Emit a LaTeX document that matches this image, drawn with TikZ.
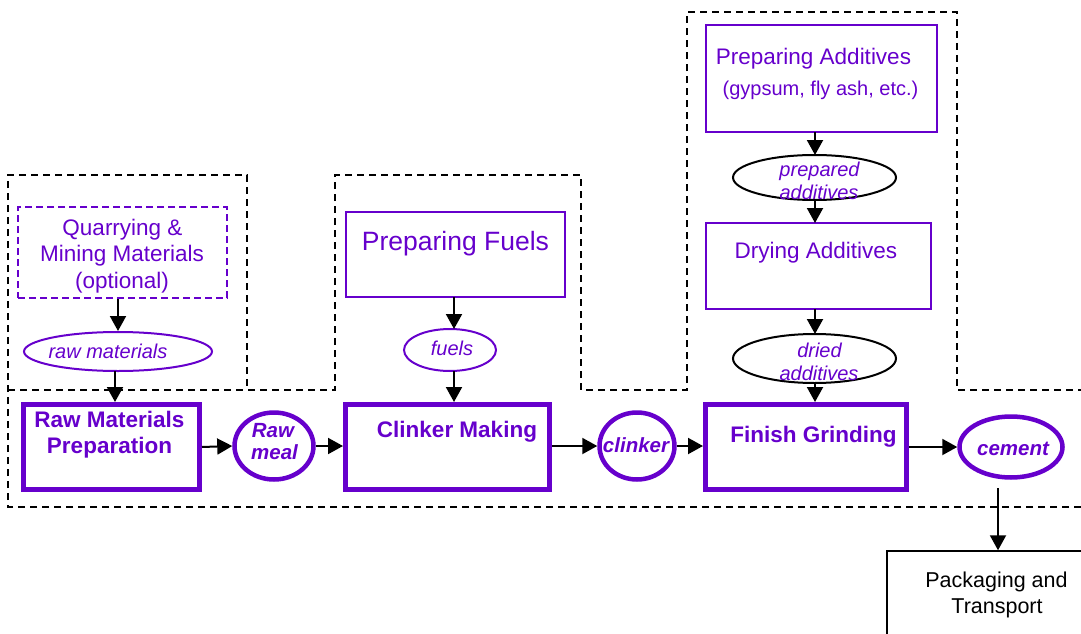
\documentclass[tikz,border=0pt]{standalone}
\usepackage{fontspec}
\setmainfont{Liberation Sans}
\usetikzlibrary{shapes.geometric,arrows.meta}
\definecolor{pur}{RGB}{102,0,204}
\begin{document}
\begin{tikzpicture}[x=1pt,y=-1pt,
 box/.style={draw=pur,line width=2pt,rectangle,inner sep=0pt},
 dbox/.style={box,dash pattern=on 7pt off 4pt},
 thickbox/.style={draw=pur,line width=5pt,rectangle,inner sep=0pt},
 oval/.style={draw=pur,line width=2pt,ellipse,inner sep=0pt},
 boval/.style={draw=black,line width=2pt,ellipse,inner sep=0pt},
 thickoval/.style={draw=pur,line width=4.5pt,ellipse,inner sep=0pt},
 txt/.style={text=pur,font=\fontsize{22.5}{26.5}\selectfont,inner sep=0pt,anchor=base},
 stxt/.style={text=pur,font=\fontsize{20}{24}\selectfont,inner sep=0pt,anchor=base},
 btxt/.style={text=pur,font=\fontsize{22.5}{27}\selectfont\bfseries,inner sep=0pt,anchor=base},
 itxt/.style={text=pur,font=\fontsize{20}{24}\selectfont\itshape,inner sep=0pt,anchor=base},
 bitxt/.style={text=pur,font=\fontsize{20.5}{22}\selectfont\bfseries\itshape,inner sep=0pt,anchor=base},
 ktxt/.style={text=black,font=\fontsize{21.5}{26}\selectfont,inner sep=0pt,anchor=base},
 arr/.style={draw=black,line width=2pt,-{Triangle[length=15pt,width=16pt]}},
 grp/.style={draw=black,line width=2pt,dash pattern=on 7pt off 5pt}]
\useasboundingbox (0,0) rectangle (1081,634);
\clip (0,0) rectangle (1081,634);
% group outlines
\draw[grp] (1081,507) -- (8,507) -- (8,175) -- (247,175) -- (247,390) -- (335,390) -- (335,175) -- (581,175) -- (581,390) -- (687,390) -- (687,12) -- (957,12) -- (957,390) -- (1081,390);
\draw[grp] (8,390) -- (247,390);
% shapes
\node[dbox,minimum width=209pt,minimum height=91pt] (quarry) at (122.5,252.5) {};
\node[oval,minimum width=188pt,minimum height=39pt] (rawmat) at (118,351.5) {};
\node[thickbox,minimum width=176pt,minimum height=85pt] (rmp) at (111.5,447) {};
\node[thickoval,minimum width=79pt,minimum height=67pt] (rawmeal) at (274,446) {};
\node[box,minimum width=219pt,minimum height=85pt] (pfuel) at (455.5,254.5) {};
\node[oval,minimum width=92pt,minimum height=42pt] (fuels) at (450,350) {};
\node[thickbox,minimum width=204pt,minimum height=85pt] (cmk) at (447.5,447) {};
\node[thickoval,minimum width=75pt,minimum height=67pt] (clinker) at (637,446) {};
\node[box,minimum width=231pt,minimum height=107pt] (padd) at (821.5,78.5) {};
\node[boval,minimum width=163pt,minimum height=45pt] (prepadd) at (814.5,177.5) {};
\node[box,minimum width=225pt,minimum height=86pt] (dadd) at (818.5,266) {};
\node[boval,minimum width=163pt,minimum height=49pt] (driedadd) at (814.5,358.5) {};
\node[thickbox,minimum width=201pt,minimum height=85pt] (fg) at (806,447) {};
\node[thickoval,minimum width=103pt,minimum height=61pt] (cement) at (1011,447) {};
\node[draw=black,line width=1.5pt,rectangle,inner sep=0pt,minimum width=240pt,minimum height=120pt] (pack) at (1007,611) {};
% texts
\node[txt] (tq1) at (122.5,235) {Quarrying \&};
\node[txt] (tq2) at (122,261.5) {Mining Materials};
\node[txt] (tq3) at (122,288) {(optional)};
\node[itxt] (trm) at (108,358) {raw materials};
\node[btxt] (tr1) at (109.5,427) {Raw Materials};
\node[btxt] (tr2) at (109.5,453) {Preparation};
\node[bitxt] (tw1) at (273,437) {Raw};
\node[bitxt] (tw2) at (274.5,459) {meal};
\node[txt,font=\fontsize{26.5}{30}\selectfont] (tpf) at (455.5,250) {Preparing Fuels};
\node[itxt] (tfu) at (452,355) {fuels};
\node[btxt] (tcm) at (457,437) {Clinker Making};
\node[bitxt] (tcl) at (636,452) {clinker};
\node[txt] (tpa1) at (813.5,64) {Preparing Additives};
\node[stxt] (tpa2) at (820.5,95) {(gypsum, fly ash, etc.)};
\node[itxt] (tpr1) at (819.5,176) {prepared};
\node[itxt] (tpr2) at (819,199) {additives};
\node[txt] (tda) at (816,258) {Drying Additives};
\node[itxt] (tdr1) at (819.5,357) {dried};
\node[itxt] (tdr2) at (819,380) {additives};
\node[btxt] (tfg) at (813.5,442) {Finish Grinding};
\node[bitxt] (tce) at (1013,455) {cement};
\node[ktxt] (tp1) at (996.5,587) {Packaging and};
\node[ktxt] (tp2) at (997,613) {Transport};
% connectors
\coordinate (cs) at (998,488);
\draw[arr] (rawmat.north |- quarry.south) -- (rawmat.north);
\draw[arr] (115,371) -- (115,402);
\draw[arr] (rmp.east) -- (rawmeal.west);
\draw[arr] (rawmeal.east) -- (rawmeal.east -| cmk.west);
\draw[arr] (454,297) -- (454,329);
\draw[arr] (454,371) -- (454,402);
\draw[arr] (cmk.east |- clinker.west) -- (clinker.west);
\draw[arr] (clinker.east) -- (clinker.east -| fg.west);
\draw[arr] (fg.east) -- (cement.west);
\draw[arr] (815,132) -- (815,155);
\draw[arr] (815,200) -- (815,223);
\draw[arr] (815,309) -- (815,334);
\draw[arr] (815,383) -- (815,402);
\draw[arr] (cs) -- (cs |- pack.north);
\end{tikzpicture}
\end{document}
